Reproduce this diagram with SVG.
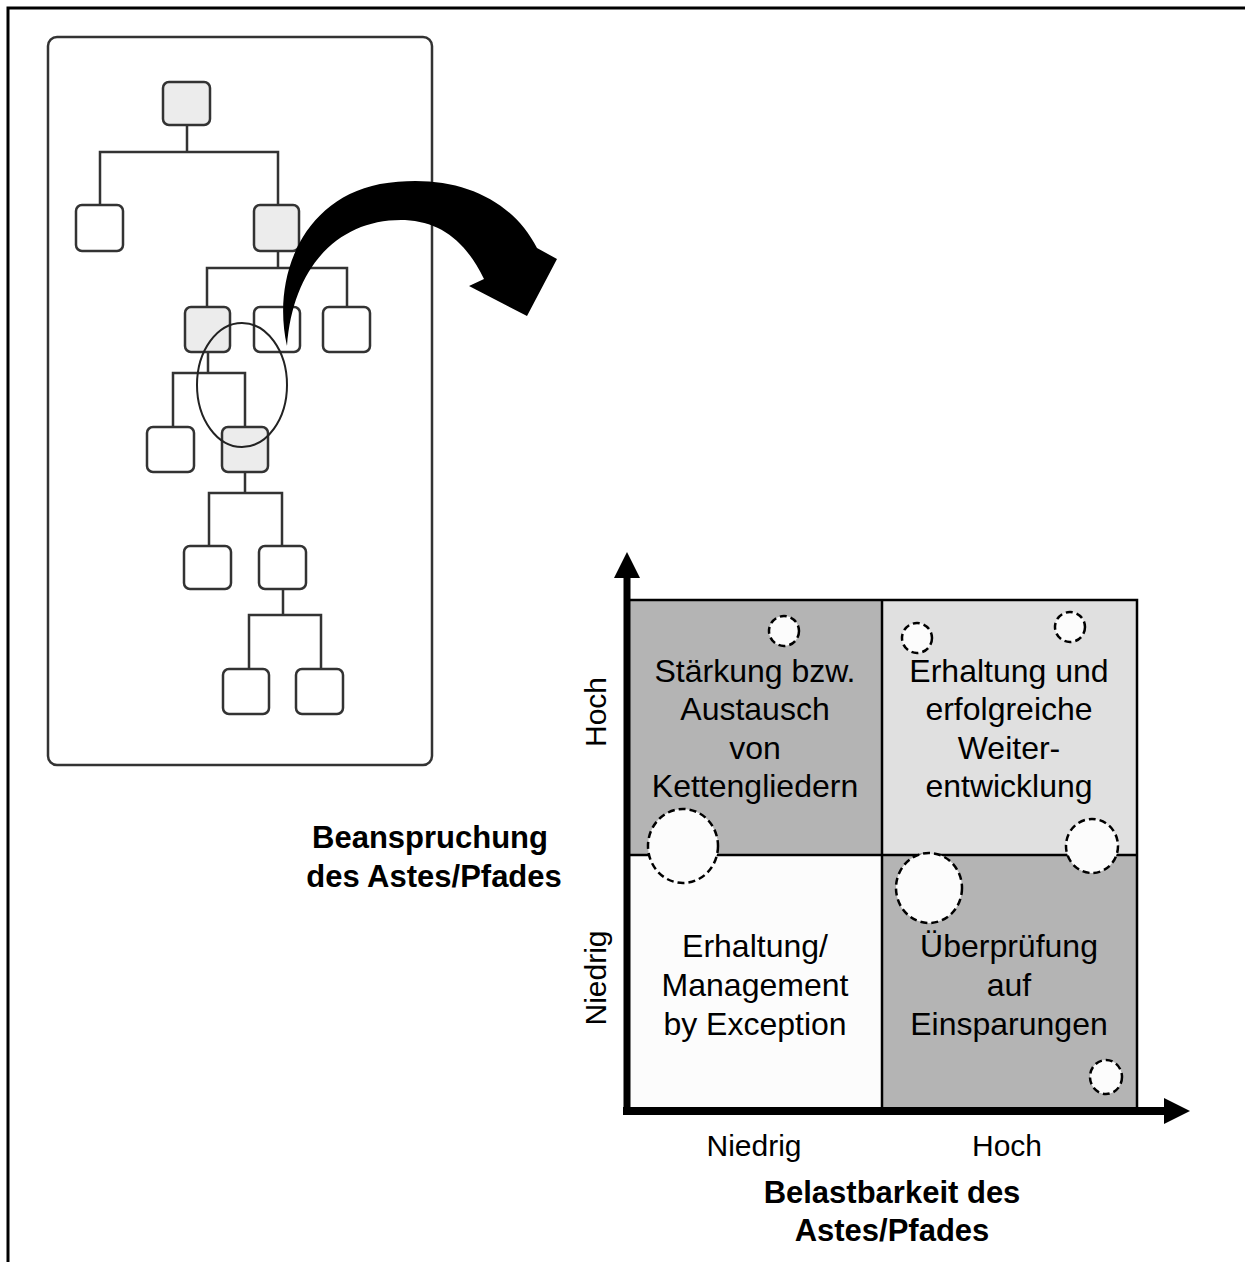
<svg xmlns="http://www.w3.org/2000/svg" width="1245" height="1262" viewBox="0 0 1245 1262">
<style>
.frame{fill:none;stroke:#000;stroke-width:3}
.tnode rect{stroke:#333;stroke-width:2.5}
.w{fill:#fff}
.g{fill:#ececec}
.tl{fill:none;stroke:#333;stroke-width:2.5}
.grid{fill:none;stroke:#000;stroke-width:2.5}
.dc{fill:#fcfcfc;stroke:#000;stroke-width:2.5;stroke-dasharray:7 4}
.q{font-family:"Liberation Sans",Arial,sans-serif;font-size:32px;fill:#000;text-anchor:middle}
.ax{font-family:"Liberation Sans",Arial,sans-serif;font-size:30px;fill:#000;text-anchor:middle}
.b{font-family:"Liberation Sans",Arial,sans-serif;font-size:31px;font-weight:bold;fill:#000;text-anchor:middle}
</style>
<rect width="1245" height="1262" fill="#fff"/>
<path class="frame" d="M8 1262 V8 H1245"/>

<g id="tree-frame"><rect x="48" y="37" width="384" height="728" rx="9" fill="#fff" stroke="#333" stroke-width="2.5"/></g>

<g id="tree-connectors">
<path class="tl" d="M187 125 V152 M100 205 V152 H278 V205"/>
<path class="tl" d="M278 251 V268 M207 307 V268 H347 V307"/>
<path class="tl" d="M208 352 V373 M173 427 V373 H245 V427"/>
<path class="tl" d="M245 472 V493 M209 546 V493 H282 V546"/>
<path class="tl" d="M283 589 V615 M249 669 V615 H321 V669"/>
</g>

<g id="t-root" class="tnode"><rect class="g" x="163" y="82" width="47" height="43" rx="6"/></g>
<g id="t-l1a" class="tnode"><rect class="w" x="76" y="205" width="47" height="46" rx="6"/></g>
<g id="t-l1b" class="tnode"><rect class="g" x="254" y="205" width="45" height="46" rx="6"/></g>
<g id="t-l2a" class="tnode"><rect class="g" x="185" y="307" width="45" height="45" rx="6"/></g>
<g id="t-l2b" class="tnode"><rect class="w" x="254" y="307" width="46" height="45" rx="6"/></g>
<g id="t-l2c" class="tnode"><rect class="w" x="323" y="307" width="47" height="45" rx="6"/></g>
<g id="t-l3a" class="tnode"><rect class="w" x="147" y="427" width="47" height="45" rx="6"/></g>
<g id="t-l3b" class="tnode"><rect class="g" x="222" y="427" width="46" height="45" rx="6"/></g>
<g id="t-l4a" class="tnode"><rect class="w" x="184" y="546" width="47" height="43" rx="6"/></g>
<g id="t-l4b" class="tnode"><rect class="w" x="259" y="546" width="47" height="43" rx="6"/></g>
<g id="t-l5a" class="tnode"><rect class="w" x="223" y="669" width="46" height="45" rx="6"/></g>
<g id="t-l5b" class="tnode"><rect class="w" x="296" y="669" width="47" height="45" rx="6"/></g>

<g id="focus-ellipse"><ellipse cx="242" cy="385" rx="45" ry="62" fill="none" stroke="#222" stroke-width="2"/></g>

<g id="big-arrow"><path fill="#000" d="M287 346 C272 280 300 200 380 184 C450 172 510 195 537 248 L557 259 L527 316 L469 286 L484 279 C465 240 440 222 405 220 C340 218 293 265 287 346 Z"/></g>

<g id="matrix">
<rect x="627" y="600" width="255" height="255" fill="#b4b4b4"/>
<rect x="882" y="600" width="255" height="255" fill="#e0e0e0"/>
<rect x="627" y="855" width="255" height="255" fill="#fcfcfc"/>
<rect x="882" y="855" width="255" height="255" fill="#b4b4b4"/>
<path class="grid" d="M627 600 H1137 V1110 M882 600 V1110 M627 855 H1137"/>
</g>

<g id="circles">
<circle class="dc" cx="784" cy="631" r="15"/>
<ellipse class="dc" cx="683" cy="846" rx="35" ry="37"/>
<circle class="dc" cx="917" cy="638" r="15"/>
<circle class="dc" cx="1070" cy="627" r="15"/>
<ellipse class="dc" cx="1092" cy="846" rx="26" ry="27"/>
<ellipse class="dc" cx="929" cy="888" rx="33" ry="35"/>
<ellipse class="dc" cx="1106" cy="1077" rx="16" ry="17"/>
</g>

<g id="axes">
<path fill="none" stroke="#000" stroke-width="7" d="M627 1115 V572"/>
<path fill="#000" d="M627 552 L640 578 L614 578 Z"/>
<path fill="none" stroke="#000" stroke-width="8" d="M623 1111 H1170"/>
<path fill="#000" d="M1190 1111 L1164 1098 L1164 1124 Z"/>
</g>

<g id="q-tl"><text class="q"><tspan x="755" y="682">Stärkung bzw.</tspan><tspan x="755" y="720">Austausch</tspan><tspan x="755" y="759">von</tspan><tspan x="755" y="797">Kettengliedern</tspan></text></g>
<g id="q-tr"><text class="q"><tspan x="1009" y="682">Erhaltung und</tspan><tspan x="1009" y="720">erfolgreiche</tspan><tspan x="1009" y="759">Weiter-</tspan><tspan x="1009" y="797">entwicklung</tspan></text></g>
<g id="q-bl"><text class="q"><tspan x="755" y="957">Erhaltung/</tspan><tspan x="755" y="996">Management</tspan><tspan x="755" y="1035">by Exception</tspan></text></g>
<g id="q-br"><text class="q"><tspan x="1009" y="957">Überprüfung</tspan><tspan x="1009" y="996">auf</tspan><tspan x="1009" y="1035">Einsparungen</tspan></text></g>

<g id="labels">
<text class="ax" transform="translate(606 712) rotate(-90)">Hoch</text>
<text class="ax" transform="translate(606 978) rotate(-90)">Niedrig</text>
<text class="ax" x="754" y="1156">Niedrig</text>
<text class="ax" x="1007" y="1156">Hoch</text>
<text class="b"><tspan x="892" y="1203">Belastbarkeit des</tspan><tspan x="892" y="1241">Astes/Pfades</tspan></text>
<text class="b"><tspan x="430" y="848">Beanspruchung</tspan><tspan x="434" y="887">des Astes/Pfades</tspan></text>
</g>
</svg>
